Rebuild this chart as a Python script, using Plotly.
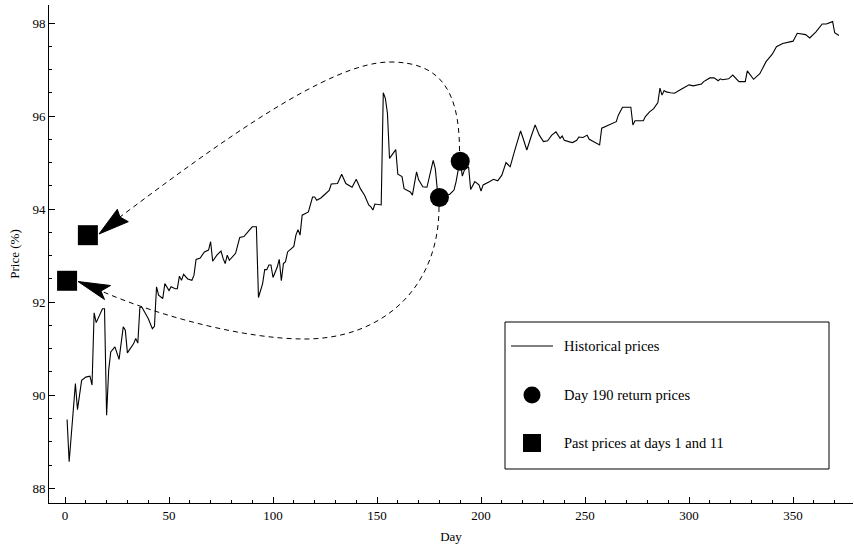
import plotly.graph_objects as go

# ---------------- data ----------------
days = [1, 2, 5, 6, 8, 10, 12, 13, 14, 15, 18, 19, 20, 21, 22, 24, 26, 28, 29, 30,
        33, 34, 35, 36, 37, 40, 42, 43, 44, 45, 47, 48, 50, 51, 53, 54, 55, 56, 57, 59,
        61, 62, 63, 65, 67, 69, 70, 71, 73, 75, 76, 77, 78, 79, 82, 84, 86, 89, 90, 92,
        93, 95, 96, 97, 98, 99, 100, 102, 103, 104, 105, 106, 107, 110, 111, 112, 113, 114, 117, 119,
        120, 121, 123, 125, 127, 128, 131, 133, 135, 138, 140, 142, 144, 146, 147, 148, 149, 152, 153, 154,
        155, 156, 159, 160, 162, 163, 166, 167, 169, 170, 172, 174, 177, 178, 179, 180, 185, 187, 188, 189,
        190, 191, 192, 194, 195, 197, 199, 200, 201, 204, 206, 208, 210, 212, 214, 216, 219, 220, 222, 224,
        226, 228, 230, 232, 234, 236, 237, 238, 239, 240, 243, 244, 246, 247, 249, 251, 252, 255, 257, 258,
        260, 262, 265, 266, 268, 272, 273, 274, 278, 279, 281, 283, 285, 286, 287, 288, 289, 291, 293, 296,
        300, 302, 306, 307, 310, 312, 314, 315, 316, 319, 321, 324, 327, 328, 331, 334, 337, 340, 342, 345,
        347, 350, 352, 355, 356, 358, 361, 364, 366, 369, 370, 372]
prices = [89.48, 88.57, 90.25, 89.69, 90.32, 90.39, 90.41, 90.22, 91.77, 91.56, 91.86, 91.86, 89.57, 90.54, 90.93, 91.04, 90.77, 91.47, 91.40, 90.91,
          91.11, 91.22, 91.12, 91.89, 91.89, 91.65, 91.43, 91.48, 92.33, 92.15, 92.08, 92.40, 92.25, 92.33, 92.29, 92.29, 92.56, 92.47, 92.60, 92.50,
          92.47, 92.58, 92.92, 92.95, 93.08, 93.12, 93.30, 92.88, 93.01, 93.10, 92.94, 92.83, 93.01, 92.90, 93.05, 93.39, 93.41, 93.58, 93.62, 93.62,
          92.10, 92.40, 92.70, 92.70, 92.80, 92.80, 92.53, 92.75, 92.92, 92.46, 92.83, 92.87, 93.08, 93.20, 93.44, 93.56, 93.44, 93.87, 93.94, 94.26,
          94.26, 94.19, 94.24, 94.32, 94.40, 94.54, 94.55, 94.75, 94.55, 94.47, 94.64, 94.44, 94.30, 94.09, 94.05, 93.98, 94.11, 94.09, 96.50, 96.38,
          96.06, 95.09, 95.28, 94.75, 94.70, 94.44, 94.37, 94.30, 94.80, 94.63, 94.48, 94.47, 95.05, 94.87, 94.41, 94.25, 94.32, 94.41, 94.59, 94.84,
          95.03, 94.71, 94.84, 94.91, 94.42, 94.59, 94.52, 94.39, 94.52, 94.59, 94.64, 94.61, 94.73, 95.00, 94.91, 95.23, 95.68, 95.55, 95.27, 95.55,
          95.81, 95.59, 95.45, 95.47, 95.59, 95.66, 95.59, 95.52, 95.57, 95.48, 95.44, 95.43, 95.48, 95.55, 95.54, 95.59, 95.50, 95.43, 95.38, 95.74,
          95.78, 95.83, 95.88, 96.02, 96.19, 96.19, 95.81, 95.90, 95.90, 95.99, 96.09, 96.16, 96.29, 96.60, 96.45, 96.55, 96.52, 96.50, 96.49, 96.57,
          96.67, 96.65, 96.69, 96.74, 96.82, 96.82, 96.76, 96.80, 96.78, 96.80, 96.88, 96.74, 96.74, 96.97, 96.79, 96.91, 97.17, 97.33, 97.49, 97.56,
          97.58, 97.61, 97.78, 97.76, 97.75, 97.68, 97.81, 97.98, 97.98, 98.03, 97.79, 97.73]

return_days = [180, 190]
return_prices = [94.25, 95.03]
past_days = [1, 11]
past_prices = [92.46, 93.44]

x_ticks = [0, 50, 100, 150, 200, 250, 300, 350]
y_ticks = [88, 90, 92, 94, 96, 98]

legend_labels = ["Historical prices", "Day 190 return prices", "Past prices at days 1 and 11"]

# ---------------- geometry ----------------
W, H = 854, 550
ML, MR, MT, MB = 49, 1, 5, 47
XR = [-7.69, 378.8]
YR = [87.684, 98.387]
PW, PH = W - ML - MR, H - MT - MB
FONT = "Liberation Serif, Times New Roman, serif"


def dx(px):
    return XR[0] + (px - ML) / PW * (XR[1] - XR[0])


def dy(py):
    return YR[1] - (py - MT) / PH * (YR[1] - YR[0])


def pxp(px):
    return (px - ML) / PW


def pyp(py):
    return (MT + PH - py) / PH


def path(cmds):
    out = []
    for c in cmds:
        if isinstance(c, str):
            out.append(c)
        else:
            out.append("%.4f,%.4f" % (dx(c[0]), dy(c[1])))
    return " ".join(out)


fig = go.Figure()
fig.add_trace(go.Scatter(x=days, y=prices, mode="lines", name=legend_labels[0],
                         line=dict(color="black", width=1.1), showlegend=False))
fig.add_trace(go.Scatter(x=return_days, y=return_prices, mode="markers", name=legend_labels[1],
                         marker=dict(symbol="circle", size=19, color="black"), showlegend=False))
fig.add_trace(go.Scatter(x=past_days, y=past_prices, mode="markers", name=legend_labels[2],
                         marker=dict(symbol="square", size=20, color="black"), showlegend=False))

shapes = []
# dashed curved arrows
curveA = path(["M", (459.5, 151), "C", (459.5, 90), (440, 62), (390, 62),
               "C", (330, 62), (220, 142), (120, 217)])
curveB = path(["M", (439, 207), "C", (439, 290), (380, 339), (305, 339),
               "C", (245, 339), (161, 316.8), (101, 291)])
for p in (curveA, curveB):
    shapes.append(dict(type="path", xref="x", yref="y", path=p,
                       line=dict(color="black", width=1, dash="5px,4px")))
headA = path(["M", (99, 234), "L", (117.3, 209.3), "L", (120, 217), "L", (128.3, 221.7), "Z"])
headB = path(["M", (78, 281.5), "L", (110.5, 285.5), "L", (101, 291), "L", (104.5, 299.5), "Z"])
for p in (headA, headB):
    shapes.append(dict(type="path", xref="x", yref="y", path=p,
                       line=dict(color="black", width=1), fillcolor="black"))

# legend box
shapes.append(dict(type="rect", xref="paper", yref="paper",
                   x0=pxp(505), x1=pxp(829), y0=pyp(469), y1=pyp(322),
                   line=dict(color="black", width=1), fillcolor="white", layer="below"))
shapes.append(dict(type="line", xref="paper", yref="paper",
                   x0=pxp(511), x1=pxp(553), y0=pyp(346), y1=pyp(346),
                   line=dict(color="black", width=1)))
shapes.append(dict(type="circle", xref="paper", yref="paper", xsizemode="pixel", ysizemode="pixel",
                   xanchor=pxp(532), yanchor=pyp(395), x0=-8.5, x1=8.5, y0=-8.5, y1=8.5,
                   line=dict(color="black", width=0), fillcolor="black"))
shapes.append(dict(type="rect", xref="paper", yref="paper", xsizemode="pixel", ysizemode="pixel",
                   xanchor=pxp(532), yanchor=pyp(443), x0=-9, x1=9, y0=-9, y1=9,
                   line=dict(color="black", width=0), fillcolor="black"))

annotations = []
for lab, py in zip(legend_labels, [346, 395, 443]):
    annotations.append(dict(xref="paper", yref="paper", x=pxp(562), y=pyp(py), text=lab,
                            showarrow=False, xanchor="left", yanchor="middle",
                            font=dict(family=FONT, size=14.5, color="black")))

axis_common = dict(showline=True, linecolor="black", linewidth=1, showgrid=False, zeroline=False,
                   ticks="inside", ticklen=6, tickcolor="black", tickwidth=1,
                   tickfont=dict(family=FONT, size=13, color="black"), automargin=False)

fig.update_layout(
    width=W, height=H, margin=dict(l=ML, r=MR, t=MT, b=MB),
    paper_bgcolor="white", plot_bgcolor="white",
    showlegend=False, shapes=shapes, annotations=annotations,
    xaxis=dict(range=XR, tickvals=x_ticks, ticktext=[str(v) for v in x_ticks],
               minor=dict(dtick=10, tick0=0, ticks="inside", ticklen=3, tickcolor="black"),
               title=dict(text="Day", font=dict(family=FONT, size=13, color="black"), standoff=10),
               **axis_common),
    yaxis=dict(range=YR, tickvals=y_ticks, ticktext=[str(v) for v in y_ticks],
               minor=dict(dtick=0.5, tick0=88, ticks="inside", ticklen=3, tickcolor="black"),
               title=dict(text="Price (%)", font=dict(family=FONT, size=13, color="black"), standoff=9),
               **axis_common),
)

fig.write_html("out.html", config={"displayModeBar": False},
               post_script="document.body.style.margin='0px';")
